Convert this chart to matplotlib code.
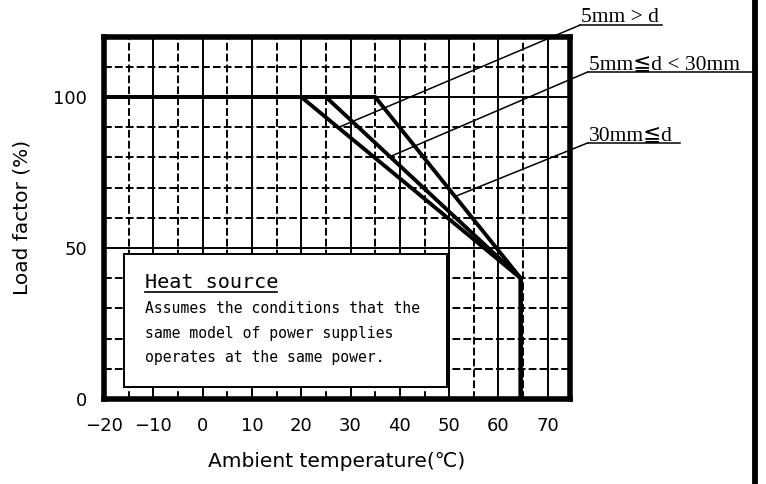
import numpy as np
import matplotlib
matplotlib.use('Agg')
import matplotlib.pyplot as plt
from matplotlib.patches import Rectangle
from matplotlib.lines import Line2D

# derating curves (ambient temperature vs load factor)
load = [100, 100, 40, 0]
temp_lt5 = [-20, 20, 64.5, 64.5]       # 5mm > d
temp_5_30 = [-20, 25, 64.5, 64.5]      # 5mm <= d < 30mm
temp_ge30 = [-20, 35, 64.5, 64.5]      # 30mm <= d

curve_labels = ["5mm > d", "5mm≦d < 30mm", "30mm≦d"]
xticks = [-20, -10, 0, 10, 20, 30, 40, 50, 60, 70]
yticks = [0, 50, 100]
note_title = "Heat source"
note_lines = ["Assumes the conditions that the",
              "same model of power supplies",
              "operates at the same power."]

fig = plt.figure(figsize=(7.66, 4.84), dpi=100)
ax = fig.add_axes([104 / 766, 85 / 484, 466 / 766, 362.4 / 484])
ax.set_xlim(-20, 74.5)
ax.set_ylim(0, 120)

# grid: solid every 10 / 50, dashed in between
for x in np.arange(-10, 71, 10):
    ax.axvline(x, color='k', lw=1.4, zorder=1)
for x in np.arange(-15, 70, 10):
    ax.axvline(x, color='k', lw=1.4, ls=(0, (4, 1.6)), zorder=1)
for y in [50, 100]:
    ax.axhline(y, color='k', lw=1.4, zorder=1)
for y in [10, 20, 30, 40, 60, 70, 80, 90, 110]:
    ax.axhline(y, color='k', lw=1.4, ls=(0, (4, 1.6)), zorder=1)

# curves
for t in [temp_lt5, temp_5_30, temp_ge30]:
    ax.plot(t, load, color='k', lw=2.8, solid_joinstyle='miter', zorder=4)

# note box
ax.add_patch(Rectangle((-16, 4), 65.5, 44, facecolor='white', edgecolor='k',
                       lw=1.4, zorder=3))
ax.text(-11.7, 36.9, note_title, family='DejaVu Sans Mono', fontsize=14.5,
        va='baseline', zorder=5)
ax.plot([-11.7, 15.1], [35.3, 35.3], color='k', lw=1.2, zorder=5)
for i, s in enumerate(note_lines):
    ax.text(-11.7, 28.5 - 8.2 * i, s, family='DejaVu Sans Mono', fontsize=10.6,
            va='baseline', zorder=5)

# leader lines and labels
lab_font = ['Liberation Serif', 'DejaVu Sans', 'Noto Sans CJK JP']
curves = [temp_lt5, temp_5_30, temp_ge30]
leader_x = [27.5, 38, 51.2]
label_y = [123.8, 108.3, 84.8]
label_x0 = [76.5, 78.1, 78.1]
label_x1 = [93.1, 111.6, 96.8]
for t, lx, ly, x0, x1, s in zip(curves, leader_x, label_y, label_x0,
                                label_x1, curve_labels):
    yy = np.interp(lx, t[1:3], load[1:3])
    ax.plot([lx, x0], [yy, ly], color='k', lw=1.1, clip_on=False, zorder=5)
    ax.plot([x0, x1], [ly, ly], color='k', lw=1.1, clip_on=False, zorder=5)
    ax.text(x0 + 0.3, ly + 0.9, s, family=lab_font, fontsize=15.5,
            va='baseline', ha='left', clip_on=False)

for sp in ax.spines.values():
    sp.set_linewidth(4)
    sp.set_zorder(6)

ax.set_xticks(xticks)
ax.set_yticks(yticks)
ax.tick_params(length=0, labelsize=13)
ax.tick_params(axis='x', pad=13)
ax.tick_params(axis='y', pad=12)
for lbl in ax.get_xticklabels() + ax.get_yticklabels():
    lbl.set_fontfamily(['DejaVu Sans'])

ax.set_xlabel("Ambient temperature(℃)", fontsize=14.5, labelpad=12,
              family=['DejaVu Sans', 'Noto Sans CJK JP'])
ax.set_ylabel("Load factor (%)", fontsize=14.5, labelpad=16)

# thick frame line at the right of the page
fig.add_artist(Line2D([755 / 766, 755 / 766], [0, 1], color='k', lw=4.2))

fig.savefig("out.png", dpi=100)
